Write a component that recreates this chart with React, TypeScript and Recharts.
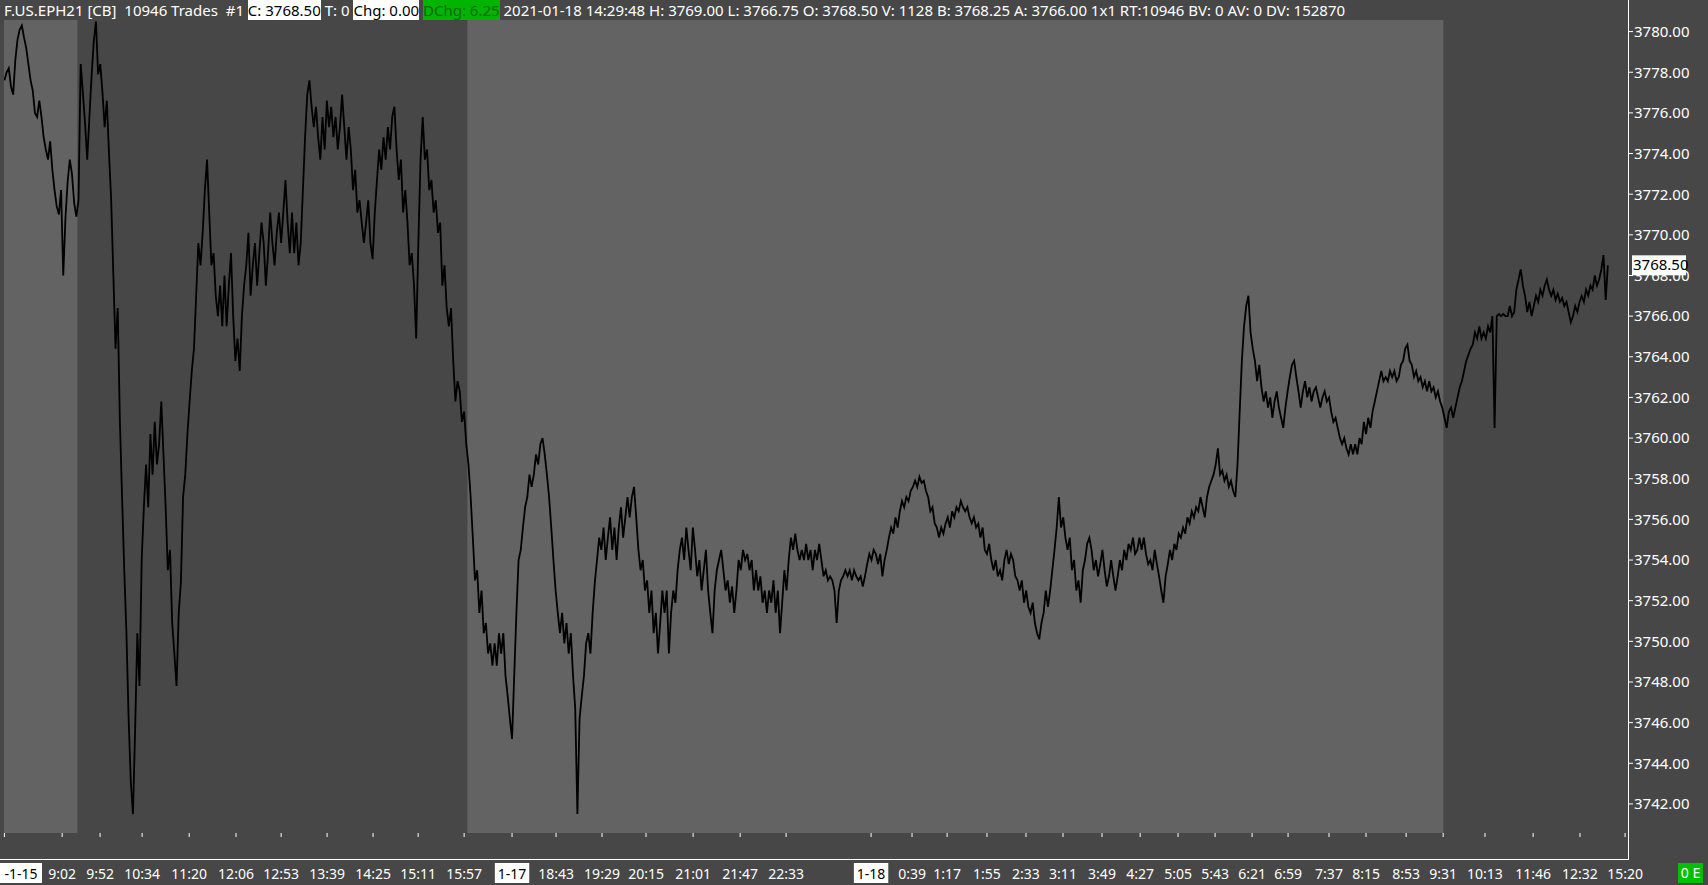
import { ComposedChart, Line, XAxis, YAxis, ReferenceArea, ReferenceLine } from "recharts";

const W = 1708;
const H = 885;
const BG = "#474747";        // chart background (day session)
const BG_LIGHT = "#636363";  // pre-market / overnight shading
const AXIS = "#ffffff";
const FONT = "'Noto Sans', 'Open Sans', sans-serif";

// price per bar, one array per session
const preMarket = [
  3777.6, 3778.0, 3778.2, 3777.3, 3776.9, 3778.6, 3779.6, 3780.1, 3780.3, 3779.7, 3779.2, 3778.4,
  3777.6, 3777.1, 3776.0, 3775.8, 3776.6, 3775.8, 3774.8, 3774.2, 3773.7, 3774.6, 3773.2, 3772.2,
  3771.4, 3771.0, 3772.2, 3768.0, 3770.8, 3772.6, 3773.7, 3773.0, 3771.6, 3770.9, 3771.7,
];

const rthJan15 = [
  3778.4, 3777.0, 3775.5, 3773.7, 3775.8, 3777.8, 3779.5, 3780.5, 3777.9, 3778.4, 3777.0, 3775.3,
  3776.6, 3774.0, 3771.7, 3768.0, 3764.4, 3766.4, 3760.8, 3757.1, 3753.5, 3750.4, 3746.2, 3743.1,
  3741.5, 3745.7, 3750.4, 3747.8, 3754.0, 3756.6, 3758.7, 3756.6, 3760.2, 3758.2, 3760.8, 3758.7,
  3759.7, 3761.8, 3759.2, 3756.6, 3753.5, 3754.5, 3750.9, 3749.4, 3747.8, 3751.4, 3752.9, 3757.1,
  3758.2, 3760.2, 3761.8, 3763.3, 3764.4, 3767.0, 3769.6, 3768.5, 3770.1, 3772.2, 3773.7, 3771.1,
  3768.5, 3769.1, 3767.0, 3766.0, 3767.5, 3765.5, 3768.0, 3765.5, 3767.5, 3769.1, 3766.0, 3763.8,
  3764.9, 3763.3, 3766.0, 3767.5, 3768.5, 3770.1, 3767.0, 3768.5, 3769.6, 3767.5, 3769.1, 3770.6,
  3769.6, 3767.5, 3769.1, 3771.1, 3769.6, 3768.5, 3770.1, 3771.1, 3769.6, 3771.1, 3772.7, 3770.6,
  3769.1, 3771.1, 3769.1, 3770.6, 3768.5, 3769.6, 3772.2, 3774.8, 3776.9, 3777.6, 3776.3, 3775.3,
  3776.3, 3774.8, 3773.7, 3775.8, 3774.2, 3776.6, 3775.3, 3776.3, 3774.8, 3775.8, 3774.2, 3775.3,
  3776.9, 3775.3, 3773.7, 3775.3, 3774.2, 3772.2, 3773.2, 3771.1, 3771.7, 3770.6, 3769.6, 3770.6,
  3771.7, 3769.6, 3768.8, 3771.1, 3772.7, 3774.2, 3773.2, 3774.8, 3773.7, 3775.3, 3774.2, 3775.8,
  3776.3, 3774.2, 3772.7, 3773.7, 3771.1, 3772.2, 3770.6, 3768.5, 3769.1, 3767.5, 3764.9, 3769.6,
  3773.7, 3775.8, 3773.7, 3774.2, 3772.2, 3772.7, 3771.1, 3771.7, 3770.1, 3770.6, 3767.5, 3768.5,
  3766.4, 3765.5, 3766.4, 3763.8, 3761.8, 3762.8, 3762.3, 3760.8, 3761.3, 3759.7, 3758.7,
];

const overnight = [
  3757.1, 3755.1, 3753.0, 3753.5, 3751.4, 3752.5, 3750.4, 3750.9, 3749.4, 3749.9, 3748.8, 3749.9,
  3748.8, 3750.4, 3749.4, 3750.4, 3748.3, 3747.3, 3746.2, 3745.2,
  3748.3, 3751.4, 3754.0, 3754.5, 3755.6, 3756.6, 3757.1, 3758.2, 3757.6, 3758.2, 3759.2, 3758.7,
  3759.7, 3760.0, 3759.2, 3758.2, 3757.1, 3755.6, 3754.0, 3752.5, 3751.4, 3750.4, 3751.4, 3749.9,
  3750.9, 3749.4, 3750.4, 3748.3, 3746.7, 3741.5,
  3746.2, 3747.3, 3748.3, 3749.9, 3750.4, 3749.4, 3751.4, 3752.9, 3754.0, 3755.1, 3754.5, 3755.6,
  3754.0, 3755.1, 3756.1, 3754.5, 3755.6, 3754.0, 3755.6, 3756.6, 3755.1, 3756.1, 3757.1, 3756.1,
  3757.1, 3757.6,
  3756.1, 3754.5, 3753.5, 3754.0, 3752.5, 3753.0, 3751.4, 3752.5, 3750.4, 3751.4, 3749.4, 3750.9,
  3752.5, 3751.4, 3752.5, 3749.4, 3751.4, 3752.5, 3751.9, 3753.5, 3754.5, 3755.1, 3754.0, 3755.6,
  3754.5, 3753.5, 3755.6, 3754.5, 3753.2, 3754.0, 3752.5, 3753.5, 3754.5, 3752.5, 3751.4, 3750.4,
  3752.5, 3753.5, 3754.0, 3754.5, 3753.5, 3752.5, 3753.0, 3751.9, 3752.7, 3751.4, 3752.5, 3754.0,
  3753.5, 3754.5, 3754.0, 3754.3, 3753.5, 3754.0, 3752.5, 3753.5, 3752.5, 3753.2, 3751.9, 3752.5,
  3751.4, 3752.5, 3751.9, 3753.0, 3751.4, 3752.5, 3750.4,
  3751.9, 3753.5, 3752.5, 3754.0, 3755.1, 3754.5, 3755.3, 3754.5, 3754.0, 3754.5, 3754.0, 3754.8,
  3754.0, 3754.5, 3753.5, 3754.5, 3754.0, 3754.8, 3754.0, 3753.2, 3753.5, 3753.0, 3753.2, 3753.0,
  3752.5, 3750.9,
  3752.5, 3753.0, 3753.2, 3753.5, 3753.2, 3753.5, 3753.0, 3753.5, 3753.2, 3753.0, 3753.2, 3752.7,
  3753.2, 3753.8, 3754.3, 3754.0, 3754.5, 3754.3, 3753.8, 3754.3, 3753.2, 3754.0, 3754.5, 3755.1,
  3755.6, 3755.3, 3756.1, 3755.6, 3756.4, 3756.9, 3756.6, 3757.1, 3756.9, 3757.4, 3757.6, 3757.9,
  3757.6, 3758.1,
  3757.8, 3757.9, 3757.4, 3757.1, 3756.4, 3756.6, 3755.8, 3755.6, 3755.1, 3755.6, 3755.3, 3755.8,
  3756.1, 3755.6, 3756.4, 3756.1, 3756.6, 3756.4, 3756.9, 3756.6, 3756.4, 3756.6, 3756.1, 3755.8,
  3756.1, 3755.6, 3755.8, 3755.1, 3755.6,
  3754.5, 3754.3, 3754.8, 3754.0, 3753.5, 3754.0, 3753.2, 3753.5, 3753.0, 3754.0, 3754.5, 3753.8,
  3754.3, 3754.0, 3753.2, 3753.0, 3752.5, 3753.0, 3751.9, 3752.5, 3751.7, 3751.4, 3751.9, 3750.9,
  3750.4, 3750.1,
  3750.9, 3751.4, 3752.5, 3751.7, 3752.5, 3753.5, 3754.5, 3755.6, 3757.1, 3755.6, 3756.1, 3755.1,
  3754.5, 3755.1, 3753.5, 3754.0, 3752.5, 3753.0, 3751.9, 3753.5, 3754.0, 3754.8, 3755.1, 3754.5,
  3753.5, 3754.0, 3753.2, 3753.8, 3754.5, 3753.5, 3752.7, 3753.2, 3754.0, 3753.2, 3752.5, 3753.2,
  3754.0, 3753.5, 3754.5, 3754.0, 3754.8, 3754.5, 3755.1, 3754.3, 3754.5, 3755.1, 3754.5, 3755.1,
  3754.3, 3753.8, 3754.0, 3753.5, 3754.5, 3753.8, 3753.2, 3752.5, 3751.9,
  3753.2, 3753.8, 3754.5, 3754.0, 3754.8, 3754.5, 3755.3, 3755.1, 3755.6, 3755.3, 3756.1, 3755.8,
  3756.4, 3756.1, 3756.6, 3756.4, 3757.1, 3756.6, 3756.1, 3757.1, 3757.6, 3757.9, 3758.2, 3758.7,
  3759.5, 3758.2, 3758.4, 3757.9, 3758.2, 3757.6, 3757.9, 3757.4, 3757.1,
  3758.7, 3761.3, 3763.8, 3765.5, 3766.5, 3767.0, 3765.2, 3764.4, 3763.8, 3762.8, 3763.6, 3762.5,
  3761.8, 3762.3, 3761.5, 3762.0, 3761.0, 3761.8, 3762.3, 3761.5, 3761.0, 3760.5,
  3761.5, 3762.3, 3763.0, 3763.6, 3763.8, 3763.0, 3762.3, 3761.5, 3762.3, 3762.8, 3762.0, 3762.5,
  3761.8, 3762.3, 3762.5, 3762.0, 3761.5, 3762.0, 3762.3, 3761.8, 3762.0, 3761.3, 3760.8, 3761.0,
  3760.5, 3760.0, 3759.7, 3760.0, 3759.5, 3759.2, 3759.7, 3759.2, 3759.7, 3759.2, 3760.0, 3759.7,
  3760.8, 3760.2, 3761.0, 3760.5, 3761.3, 3761.8, 3762.3, 3762.8, 3763.3, 3762.8, 3763.0, 3762.8,
  3763.3, 3763.0, 3763.3, 3762.8, 3763.0, 3763.6, 3763.8, 3764.4, 3764.6, 3763.8, 3763.6, 3763.0,
  3763.3, 3762.8, 3763.0, 3762.5, 3762.8, 3762.3, 3762.8, 3762.3, 3762.5, 3762.0, 3762.3, 3761.8,
  3761.5, 3761.0,
];

const rthJan18 = [
  3760.5, 3761.3, 3761.5, 3761.0, 3761.5, 3762.0, 3762.5, 3762.8, 3763.3, 3763.8, 3764.1, 3764.4,
  3764.6, 3765.2, 3764.9, 3765.5, 3764.9, 3765.2, 3764.9, 3765.5, 3765.2, 3766.0, 3760.5, 3766.0,
  3766.1, 3766.0, 3766.1, 3766.0, 3766.0, 3766.5, 3766.0, 3766.2, 3767.3, 3767.8, 3768.3, 3767.5,
  3767.0, 3766.2, 3766.7, 3766.0, 3766.5, 3767.0, 3766.7, 3767.3, 3767.0, 3767.5, 3767.8, 3767.3,
  3767.0, 3767.3, 3766.8, 3767.1, 3766.7, 3766.9, 3766.5, 3766.7, 3766.2, 3765.7, 3766.0, 3766.5,
  3766.2, 3766.7, 3767.0, 3766.7, 3767.3, 3767.0, 3767.5, 3767.3, 3768.0, 3767.5, 3767.8, 3768.3,
  3769.0, 3766.8, 3768.5,
];

const sessions = [
  { prices: preMarket, light: true },
  { prices: rthJan15, light: false },
  { prices: overnight, light: true },
  { prices: rthJan18, light: false },
];

// time scale labels, placed at bar index
const tickIdx = [
  0, 26.5, 43.9, 63.2, 84.8, 106.3, 127, 148.1, 169.2, 189.9, 211, 233, 253.2, 274.3, 294.5, 316.1,
  337.7, 358.8, 397.8, 416.6, 432.7, 451, 468.9, 485.9, 503.8, 521.3, 538.7, 555.7, 572.7, 589.2,
  608, 625, 643.4, 660.4, 679.6, 701.7, 723.2, 743.9,
];
const tickLabels = [
  "-1-15", "9:02", "9:52", "10:34", "11:20", "12:06", "12:53", "13:39", "14:25", "15:11", "15:57",
  "1-17", "18:43", "19:29", "20:15", "21:01", "21:47", "22:33", "1-18", "0:39", "1:17", "1:55",
  "2:33", "3:11", "3:49", "4:27", "5:05", "5:43", "6:21", "6:59", "7:37", "8:15", "8:53", "9:31",
  "10:13", "11:46", "12:32", "15:20",
];
const yTicks = [
  3742, 3744, 3746, 3748, 3750, 3752, 3754, 3756, 3758, 3760, 3762, 3764, 3766, 3768, 3770, 3772,
  3774, 3776, 3778, 3780,
];
const lastPrice = 3768.5;

const header = [
  { t: "F.US.EPH21 [CB]  10946 Trades  #1 " },
  { t: "C: 3768.50", bg: "#ffffff", c: "#000000" },
  { t: " T: 0 " },
  { t: "Chg: 0.00", bg: "#ffffff", c: "#000000" },
  { t: " " },
  { t: "DChg: 6.25", bg: "#00b400", c: "#0b6b0b" },
  { t: " 2021-01-18 14:29:48 H: 3769.00 L: 3766.75 O: 3768.50 V: 1128 B: 3768.25 A: 3766.00 1x1 RT:10946 BV: 0 AV: 0 DV: 152870" },
];

const rows = sessions.flatMap((s) => s.prices).map((p, i) => ({ i, p }));

let cursor = 0;
const bands = sessions.map((s) => {
  const b = { x1: cursor - 1.5, x2: cursor + s.prices.length - 1.5, light: s.light };
  cursor += s.prices.length;
  return b;
});

const XTick = (props: any) => {
  const { x, index } = props;
  const label = tickLabels[index];
  const isDate = label.includes("-");
  const w = label.length * 7.6 + 4;
  const left = index === 0 ? 0 : x - w / 2;
  return (
    <g>
      {isDate && <rect x={left} y={863} width={w} height={20} fill="#ffffff" />}
      <text
        x={left + w / 2}
        y={879}
        textAnchor="middle"
        fill={isDate ? "#000000" : "#ffffff"}
        fontSize={14}
        fontFamily={FONT}
      >
        {label}
      </text>
    </g>
  );
};

const PriceTag = (props: any) => {
  const vb = props.viewBox || {};
  const x = vb.x + vb.width + 3;
  const y = vb.y;
  return (
    <g>
      <rect x={x} y={y - 10} width={54} height={20} fill="#ffffff" />
      <text x={x + 1} y={y + 5} fill="#000000" fontSize={15} fontFamily={FONT}>
        {lastPrice.toFixed(2)}
      </text>
    </g>
  );
};

export default function App() {
  return (
    <div style={{ position: "fixed", left: 0, top: 0, width: W, height: H, background: BG, overflow: "hidden", fontFamily: FONT }}>
      <div
        style={{
          position: "absolute", left: 4, top: 0, height: 20, lineHeight: "20px",
          fontSize: 15, color: "#ffffff", whiteSpace: "pre",
        }}
      >
        {header.map((h, k) => (
          <span key={k} style={{ background: h.bg, color: h.c }}>{h.t}</span>
        ))}
      </div>

      <div style={{ position: "absolute", left: 0, top: 0 }}>
        <ComposedChart width={W} height={H} data={rows} margin={{ top: 20, right: 0, bottom: 26, left: 4 }}>
          {bands.filter((b) => b.light).map((b, k) => (
            <ReferenceArea key={k} x1={b.x1} x2={b.x2} fill={BG_LIGHT} fillOpacity={1} stroke="none" ifOverflow="hidden" />
          ))}
          <XAxis
            dataKey="i"
            type="number"
            domain={[-0.2, 745.7]}
            ticks={tickIdx}
            interval={0}
            allowDataOverflow
            axisLine={false}
            tickLine={{ stroke: AXIS }}
            tickSize={4}
            height={26}
            tick={<XTick />}
          />
          <YAxis
            orientation="right"
            type="number"
            domain={[3740.57, 3780.57]}
            ticks={yTicks}
            interval={0}
            allowDataOverflow
            width={79}
            axisLine={false}
            tickLine={{ stroke: AXIS }}
            tickSize={4}
            tickMargin={1}
            tick={{ fill: "#ffffff", fontSize: 15, fontFamily: FONT }}
            tickFormatter={(v: number) => v.toFixed(2)}
          />
          <Line
            dataKey="p"
            type="linear"
            stroke="#000000"
            strokeWidth={1.8}
            dot={false}
            isAnimationActive={false}
          />
          <ReferenceLine y={lastPrice} stroke="none" label={(p: any) => <PriceTag {...p} />} />
        </ComposedChart>
      </div>

      {/* axis borders */}
      <div style={{ position: "absolute", left: 1628, top: 0, width: 1, height: 860, background: AXIS }} />
      <div style={{ position: "absolute", left: 0, top: 859, width: 1629, height: 1, background: AXIS }} />
      <div
        style={{
          position: "absolute", left: 1678, top: 863, width: 25, height: 20, background: "#00c000",
          color: "#ffffff", fontSize: 14, lineHeight: "20px", textAlign: "center",
        }}
      >
        0 E
      </div>
    </div>
  );
}
